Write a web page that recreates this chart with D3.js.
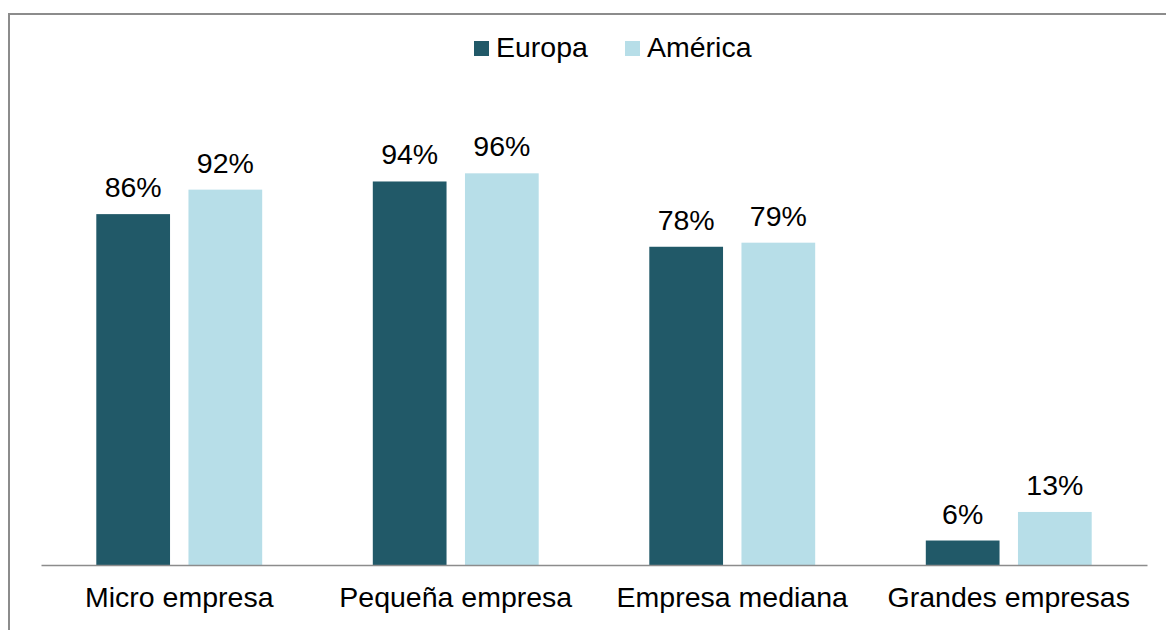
<!DOCTYPE html>
<html><head><meta charset="utf-8">
<script src="https://cdn.jsdelivr.net/npm/d3@7"></script>
<style>body{margin:0;background:#fff}svg{display:block}text{font-family:"Liberation Sans",Arial,sans-serif}</style>
</head><body>
<svg id="c" width="1166" height="630"></svg>
<script>
const categories = ["Micro empresa","Pequeña empresa","Empresa mediana","Grandes empresas"];
const seriesNames = ["Europa","América"];
const europa = [86,94,78,6];
const america = [92,96,79,13];
const colors = ["#215968","#B7DEE8"];
const FS = 28.5;

const svg = d3.select("#c");
// frame
svg.append("path").attr("d","M9,630 L9,14 L1166,14").attr("fill","none").attr("stroke","#8c8c8c").attr("stroke-width",2);

const x0 = d3.scaleBand().domain(categories).range([41,1147]).paddingInner(0).paddingOuter(0);
const x1 = d3.scaleBand().domain(seriesNames).range([0,x0.bandwidth()]).paddingInner(0.2).paddingOuter(0.6);
const y = d3.scaleLinear().domain([0,100]).range([565,157]);

const data = categories.map((c,i)=>({c, vals:[{s:"Europa",v:europa[i]},{s:"América",v:america[i]}]}));
const g = svg.append("g");
const grp = g.selectAll("g.cat").data(data).join("g").attr("transform",d=>`translate(${x0(d.c)},0)`);
grp.selectAll("rect").data(d=>d.vals).join("rect")
  .attr("x",d=>x1(d.s)).attr("width",x1.bandwidth())
  .attr("y",d=>y(d.v)).attr("height",d=>y(0)-y(d.v))
  .attr("fill",(d,i)=>colors[i]);
grp.selectAll("text.lbl").data(d=>d.vals).join("text").attr("class","lbl")
  .attr("x",d=>x1(d.s)+x1.bandwidth()/2).attr("y",d=>y(d.v)-17)
  .attr("text-anchor","middle").attr("font-size",FS).attr("fill","#000")
  .text(d=>d.v+"%");

// axis
const ax = svg.append("g").attr("transform","translate(0,565)").call(d3.axisBottom(x0).tickSize(0).tickPadding(22));
ax.select(".domain").attr("stroke","#8c8c8c").attr("stroke-width",1.5);
ax.selectAll("text").attr("font-size",FS).attr("fill","#000").attr("font-family","Liberation Sans, Arial, sans-serif");

// legend
const leg = svg.append("g");
const lx = [474,625];
seriesNames.forEach((s,i)=>{
  leg.append("rect").attr("x",lx[i]).attr("y",41).attr("width",15).attr("height",15).attr("fill",colors[i]);
  leg.append("text").attr("x",lx[i]+22).attr("y",57).attr("font-size",FS).attr("fill","#000").text(s);
});
</script>
</body></html>
